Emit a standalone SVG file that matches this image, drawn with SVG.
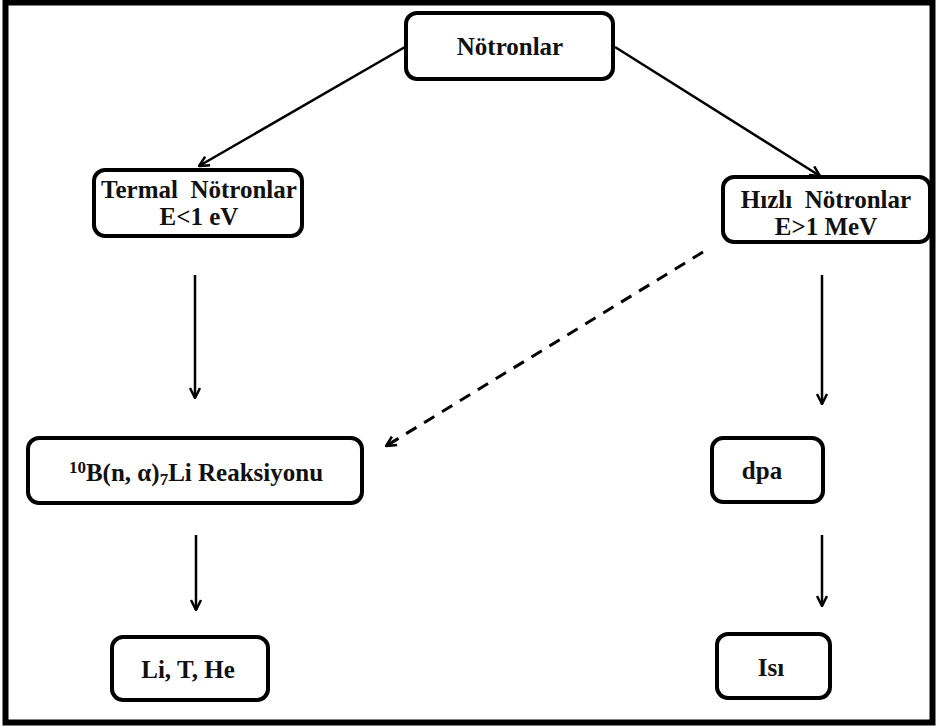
<svg xmlns="http://www.w3.org/2000/svg" width="938" height="726" viewBox="0 0 938 726">
<defs>
<style>
.box{fill:#fff;stroke:#000;stroke-width:4}
.t{font-family:'Liberation Serif','Times New Roman','DejaVu Serif',serif;font-weight:700;font-size:25px;fill:#111;text-anchor:middle}
.c{fill:none;stroke:#000;stroke-width:2.5}
.d{stroke-dasharray:12 9;stroke-width:3}
</style>
<marker id="ah" viewBox="0 0 12 12" refX="11" refY="6" markerWidth="12" markerHeight="12" markerUnits="userSpaceOnUse" orient="auto">
<path d="M1,1 L11,6 L1,11" fill="none" stroke="#000" stroke-width="2.5"/>
</marker>
</defs>
<rect width="938" height="726" fill="#fff"/>
<rect x="5.5" y="2.5" width="927" height="720" fill="none" stroke="#000" stroke-width="6"/>
<g id="connectors">
<line class="c" x1="405" y1="47" x2="199" y2="166" marker-end="url(#ah)"/>
<line class="c" x1="615" y1="47" x2="820" y2="176" marker-end="url(#ah)"/>
<line class="c" x1="195" y1="275" x2="195" y2="398" marker-end="url(#ah)"/>
<line class="c" x1="822" y1="275" x2="822" y2="404" marker-end="url(#ah)"/>
<line class="c d" x1="703" y1="252" x2="386" y2="446" marker-end="url(#ah)"/>
<line class="c" x1="196" y1="535" x2="196" y2="610" marker-end="url(#ah)"/>
<line class="c" x1="822" y1="535" x2="822" y2="606" marker-end="url(#ah)"/>
</g>
<g id="notronlar">
<rect class="box" x="406" y="13" width="207" height="66" rx="11"/>
<text class="t" x="510" y="55">Nötronlar</text>
</g>
<g id="termal">
<rect class="box" x="94" y="170" width="208" height="66" rx="11"/>
<text class="t" x="199" y="198" xml:space="preserve">Termal  Nötronlar</text>
<text class="t" x="199" y="225">E&lt;1 eV</text>
</g>
<g id="hizli">
<rect class="box" x="723" y="177" width="207" height="65" rx="11"/>
<text class="t" x="826" y="208" xml:space="preserve">Hızlı  Nötronlar</text>
<text class="t" x="826" y="235">E&gt;1 MeV</text>
</g>
<g id="reaksiyon">
<rect class="box" x="28" y="438" width="334" height="65" rx="11"/>
<text class="t" x="196" y="481" font-size="26"><tspan font-size="17" dy="-8">10</tspan><tspan dy="8">B(n, α)</tspan><tspan font-size="17" dy="4">7</tspan><tspan dy="-4">Li Reaksiyonu</tspan></text>
</g>
<g id="dpa">
<rect class="box" x="712" y="438" width="111" height="64" rx="11"/>
<text class="t" x="762" y="479">dpa</text>
</g>
<g id="lithe">
<rect class="box" x="112" y="637" width="156" height="63" rx="11"/>
<text class="t" x="188" y="678" font-size="26">Li, T, He</text>
</g>
<g id="isi">
<rect class="box" x="717" y="634" width="113" height="64" rx="11"/>
<text class="t" x="771" y="676">Isı</text>
</g>
</svg>
